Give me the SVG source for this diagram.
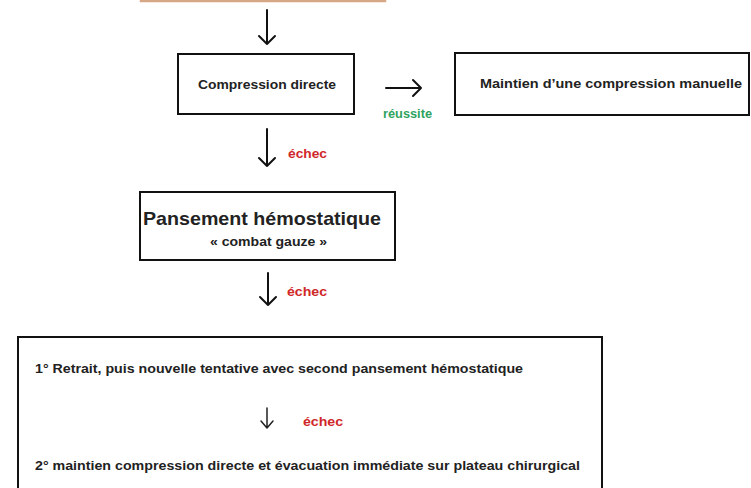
<svg xmlns="http://www.w3.org/2000/svg" width="751" height="488" viewBox="0 0 751 488">
<style>
.box{fill:#fff;stroke:#111;stroke-width:2}
.t{font-family:"Liberation Sans",Arial,sans-serif;font-weight:bold;fill:#222}
.fail{font-family:"Liberation Sans",Arial,sans-serif;font-weight:bold;fill:#d0282a;font-size:12px}
.ok{font-family:"Liberation Sans",Arial,sans-serif;font-weight:bold;fill:#2ea35e;font-size:12px}
.arr{fill:none;stroke:#111;stroke-width:2;stroke-linecap:round;stroke-linejoin:round}
.arrs{fill:none;stroke:#222;stroke-width:1.5;stroke-linecap:round;stroke-linejoin:round}
</style>
<rect width="751" height="488" fill="#fff"/>
<g id="top-node">
<rect x="141" y="-30" width="244" height="31" fill="#fff" stroke="#d6a886" stroke-width="2.5"/>
</g>
<g id="compression">
<rect class="box" x="178" y="54" width="176" height="60"/>
<text class="t" x="198" y="89" font-size="13" textLength="138" lengthAdjust="spacingAndGlyphs">Compression directe</text>
</g>
<g id="maintien">
<rect class="box" x="455" y="53" width="294" height="62"/>
<text class="t" x="480" y="88" font-size="13" textLength="262" lengthAdjust="spacingAndGlyphs">Maintien d’une compression manuelle</text>
</g>
<g id="pansement">
<rect class="box" x="140" y="192" width="255" height="68"/>
<text class="t" x="143" y="225" font-size="19" textLength="238" lengthAdjust="spacingAndGlyphs">Pansement hémostatique</text>
<text class="t" x="210" y="246" font-size="12" textLength="117" lengthAdjust="spacingAndGlyphs">« combat gauze »</text>
</g>
<g id="final">
<rect class="box" x="18" y="337" width="584" height="170"/>
<text class="t" x="35" y="373" font-size="12.5" textLength="488" lengthAdjust="spacingAndGlyphs">1° Retrait, puis nouvelle tentative avec second pansement hémostatique</text>
<text class="fail" x="303" y="426" textLength="40" lengthAdjust="spacingAndGlyphs">échec</text>
<text class="t" x="35" y="470" font-size="12.5" textLength="545" lengthAdjust="spacingAndGlyphs">2° maintien compression directe et évacuation immédiate sur plateau chirurgical</text>
<path class="arrs" d="M267 408 V428 M261 421 L267 428 L273 421"/>
</g>
<g id="connectors">
<path class="arr" d="M267 10 V44 M259 36 L267 44 L275 36"/>
<path class="arr" d="M386 88 H421 M413 80 L421 88 L413 96"/>
<path class="arr" d="M267 129 V166 M259 158 L267 166 L275 158"/>
<path class="arr" d="M268 273 V305 M260 297 L268 305 L276 297"/>
<text class="ok" x="383" y="118" textLength="49" lengthAdjust="spacingAndGlyphs">réussite</text>
<text class="fail" x="288" y="158" textLength="39" lengthAdjust="spacingAndGlyphs">échec</text>
<text class="fail" x="287" y="296" textLength="40" lengthAdjust="spacingAndGlyphs">échec</text>
</g>
</svg>
